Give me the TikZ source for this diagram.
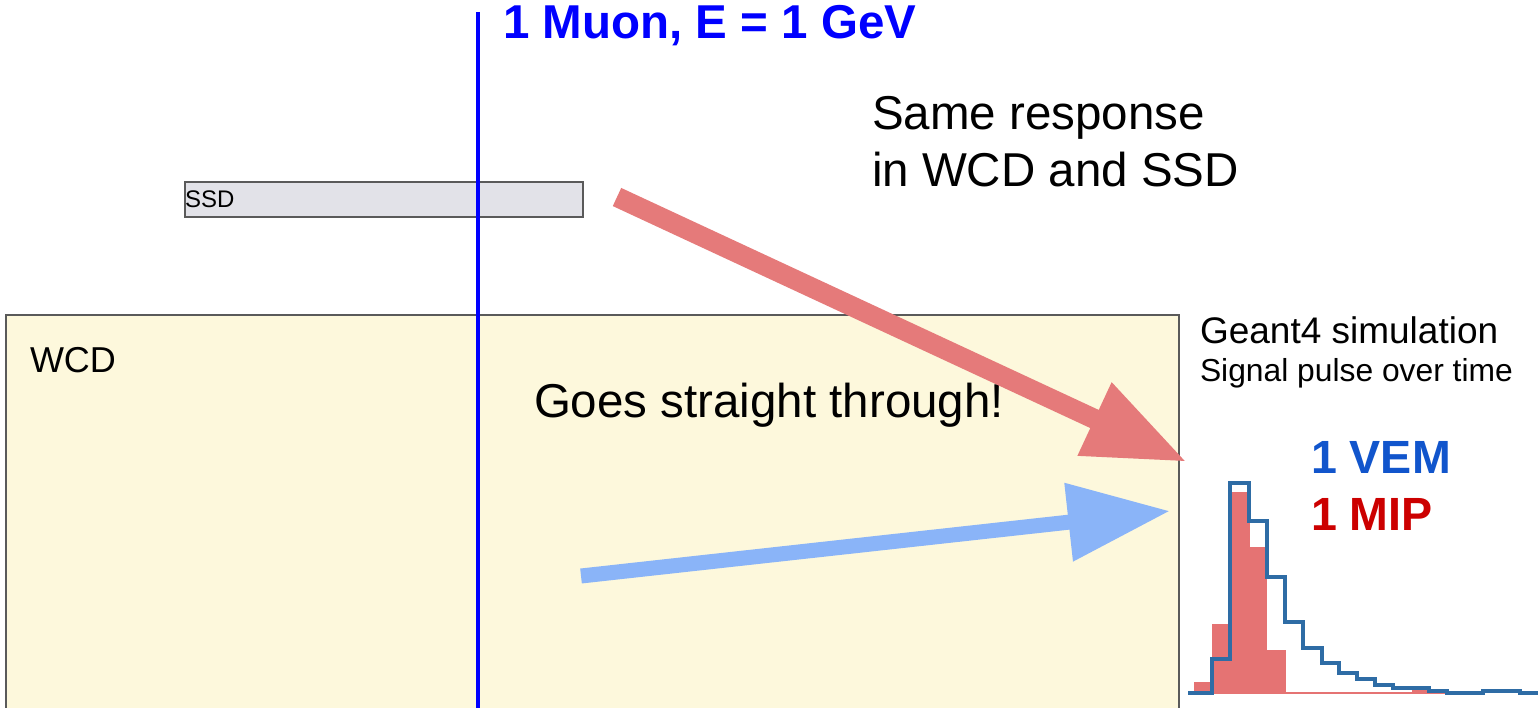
\documentclass[tikz,border=0pt]{standalone}
\usepackage{fontspec}
\setmainfont{Liberation Sans}
\usetikzlibrary{arrows.meta}
\definecolor{wcdfill}{RGB}{253,248,220}
\definecolor{ssdfill}{RGB}{226,226,232}
\definecolor{boxline}{RGB}{90,90,90}
\definecolor{muonblue}{RGB}{0,0,255}
\definecolor{redarrow}{RGB}{229,122,122}
\definecolor{bluearrow}{RGB}{138,180,248}
\definecolor{histred}{RGB}{229,115,115}
\definecolor{histblue}{RGB}{46,108,165}
\definecolor{vemblue}{RGB}{17,85,204}
\definecolor{mipred}{RGB}{204,0,0}
\tikzset{
  txt/.style={anchor=base west, inner sep=0pt, outer sep=0pt},
  big/.style={txt, font=\fontsize{47.5}{58}\selectfont},
  detbox/.style={draw=boxline, line width=2pt},
  fatarrow/.style={line width=#1, -{Triangle[length=102pt,width=75pt]}},
}
\begin{document}
\begin{tikzpicture}[x=1pt,y=-1pt]
\useasboundingbox (0,0) rectangle (1538,708);
% detectors
\node[detbox, fill=wcdfill, anchor=north west, minimum width=1173pt, minimum height=396pt, inner sep=0pt] (wcd) at (4.5,314.5) {};
\node[txt, font=\fontsize{36}{40}\selectfont] (wcdl) at (30,372.5) {WCD};
\node[detbox, fill=ssdfill, anchor=north west, minimum width=398pt, minimum height=35pt, inner sep=0pt] (ssd) at (183.5,181) {};
\node[txt, font=\fontsize{24}{28}\selectfont] (ssdl) at (185,207.5) {SSD};
% muon track
\coordinate (mtop) at (478,12);
\coordinate (mbot) at (478,708);
\draw[muonblue, line width=3.5pt] (mtop) -- (mbot);
\node[big, font=\bfseries\fontsize{47.5}{58}\selectfont, text=muonblue] (title) at (503,39) {1 Muon, E = 1 GeV};
% texts
\node[big] (same1) at (872,130) {Same response};
\node[big] (same2) at (872,187) {in WCD and SSD};
\node[big] (goes) at (534,417) {Goes straight through!};
\node[txt, font=\fontsize{37}{44}\selectfont] (geant) at (1200,343) {Geant4 simulation};
\node[txt, font=\fontsize{31.8}{38}\selectfont] (signal) at (1200,381) {Signal pulse over time};
\node[txt, font=\bfseries\fontsize{46.6}{56}\selectfont, text=vemblue] (vem) at (1311,473) {1 VEM};
\node[txt, font=\bfseries\fontsize{46.6}{56}\selectfont, text=mipred] (mip) at (1311,530) {1 MIP};
% arrows
\coordinate (rtail) at (617,197);
\coordinate (rtip) at (1187,462);
\coordinate (btail) at (581,576);
\coordinate (btip) at (1170,511);
\draw[fatarrow=20pt, redarrow] (rtail) -- (rtip);
\draw[fatarrow=15pt, bluearrow] (btail) -- (btip);
% histogram
\fill[histred] (1194,693) rectangle (1212,682);
\fill[histred] (1212,693) rectangle (1230,624);
\fill[histred] (1230,693) rectangle (1250,492);
\fill[histred] (1250,693) rectangle (1267,547);
\fill[histred] (1267,693) rectangle (1286,650);
\fill[histred] (1412,693) rectangle (1428,688);
\draw[histred, line width=1.2pt] (1188,693) -- (1480,693);
\draw[histblue, line width=3.5pt, line join=miter]
  (1188,693) -- (1212,693) -- (1212,659) -- (1230,659) -- (1230,483) -- (1249,483)
  -- (1249,521) -- (1267,521) -- (1267,577) -- (1285,577) -- (1285,622) -- (1303,622)
  -- (1303,648) -- (1322,648) -- (1322,663) -- (1339,663) -- (1339,673) -- (1357,673)
  -- (1357,679) -- (1375,679) -- (1375,685) -- (1393,685) -- (1393,688) -- (1429,688)
  -- (1429,691) -- (1447,691) -- (1447,693) -- (1483,693) -- (1483,691) -- (1520,691)
  -- (1520,693) -- (1538,693);
\end{tikzpicture}
\end{document}
